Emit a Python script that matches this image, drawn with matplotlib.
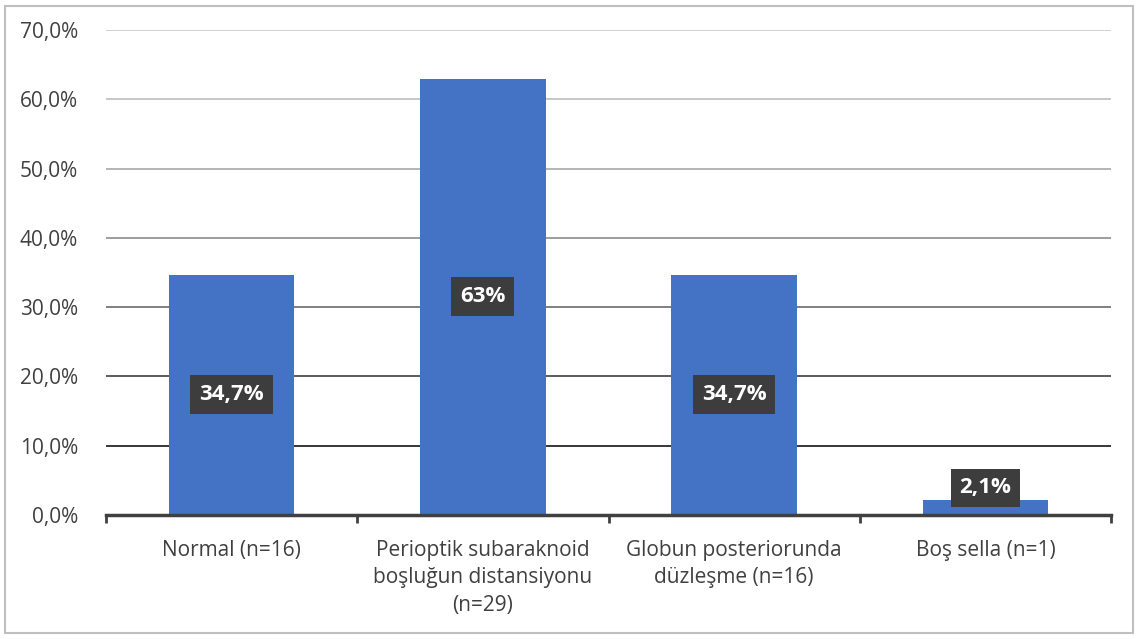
import matplotlib.pyplot as plt
from matplotlib.patches import Rectangle

# data
categories = ['Normal (n=16)',
              'Perioptik subaraknoid\nboşluğun distansiyonu\n(n=29)',
              'Globun posteriorunda\ndüzleşme (n=16)',
              'Boş sella (n=1)']
values = [34.7, 63.0, 34.7, 2.1]
labels = ['34,7%', '63%', '34,7%', '2,1%']
yticks = [0, 10, 20, 30, 40, 50, 60, 70]

plt.rcParams['font.family'] = ['Open Sans', 'DejaVu Sans']

fig = plt.figure(figsize=(11.46, 6.39), dpi=100)
ax = fig.add_axes([106 / 1146, 1 - 515 / 639, (1111 - 106) / 1146, 485 / 639])

# outer border of the chart area
fig.patches.append(Rectangle((5 / 1146, 6 / 639), 1128 / 1146, 627 / 639,
                             transform=fig.transFigure, fill=False,
                             edgecolor='#bfbfbf', linewidth=1.5))

# gridlines fade from light gray (top) to black (bottom)
grid_colors = ['#c8c8c8', '#bdbdbd', '#a8a8a8', '#8c8c8c', '#6a6a6a', '#404040', '#151515']
for y, c in zip(yticks[:0:-1], grid_colors):
    ax.axhline(y, color=c, linewidth=1.2, zorder=0)

x = range(len(categories))
ax.bar(x, values, width=0.5, color='#4472c4', zorder=2)

# data labels in dark boxes
for i, (v, lab) in enumerate(zip(values, labels)):
    ypos = v / 2 if v > 10 else v + 1.8
    ax.text(i, ypos, lab, ha='center', va='center', color='white',
            fontsize=16, fontweight='bold', zorder=4,
            bbox=dict(boxstyle='square,pad=0.4', facecolor='#3d3d3d',
                      edgecolor='none'))

ax.set_xlim(-0.5, 3.5)
ax.set_ylim(0, 70)
ax.set_yticks(yticks)
ax.set_yticklabels([f'{t},0%' for t in yticks], fontsize=15, color='#404040')
ax.set_xticks(list(x))
ax.set_xticklabels(categories, fontsize=15, color='#404040', va='top',
                   linespacing=1.4)
ax.tick_params(axis='y', length=0, pad=20)
ax.tick_params(axis='x', length=0, pad=18)

# category boundary ticks
ax.set_xticks([-0.5, 0.5, 1.5, 2.5, 3.5], minor=True)
ax.tick_params(axis='x', which='minor', length=6, width=2, color='#404040')

for s in ['top', 'right', 'left']:
    ax.spines[s].set_visible(False)
ax.spines['bottom'].set_color('#404040')
ax.spines['bottom'].set_linewidth(2.5)
ax.spines['bottom'].set_zorder(5)

fig.savefig('out.png', dpi=100)
